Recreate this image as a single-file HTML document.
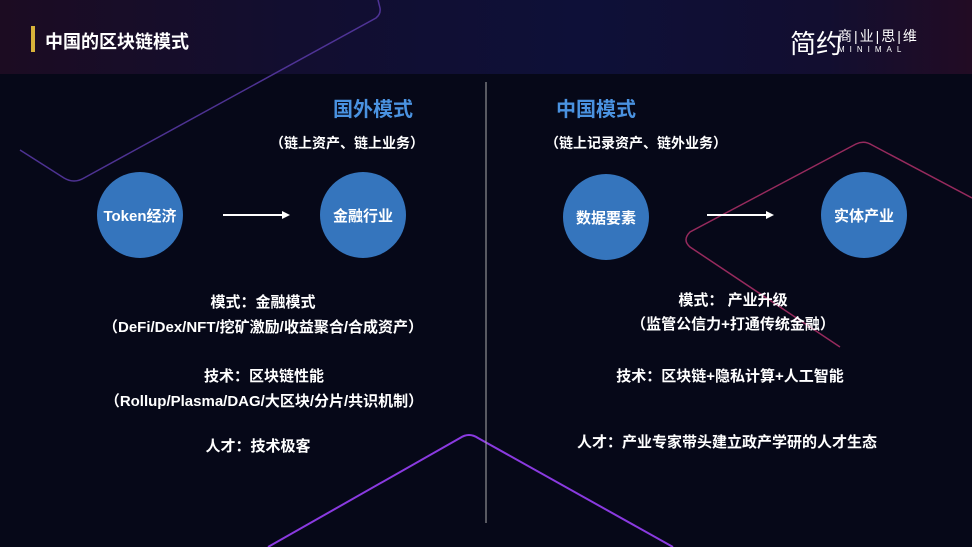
<!DOCTYPE html>
<html><head><meta charset="utf-8"><style>
body{margin:0;width:972px;height:547px;overflow:hidden;background:#060818;font-family:"Liberation Sans","Noto Sans CJK SC",sans-serif;color:#fff;position:relative}
.hdr{position:absolute;left:0;top:0;width:972px;height:74px;background:linear-gradient(90deg,#1c0c22 0%,#120e30 30%,#0e1038 60%,#120e30 85%,#220c24 100%)}
.t{position:absolute;white-space:nowrap;font-weight:bold}
.c{position:absolute;width:86px;height:86px;border-radius:50%;background:#3575bd;display:flex;align-items:center;justify-content:center;font-weight:bold;font-size:15px}
.ctr{transform:translateX(-50%);text-align:center}
</style></head><body>
<div class="hdr"></div>
<svg style="position:absolute;left:0;top:0" width="972" height="547">
<path d="M378,0 L380,8 Q381,14 376,18 L84,178 Q74,184 64,178 L20,150" fill="none" stroke="#5a3aa8" stroke-width="1.5" opacity="0.85"/>
<path d="M268,547 L460,438 Q469,432 478,438 L673,547" fill="none" stroke="#8a3ae0" stroke-width="2"/>
<path d="M840,347 L690,247 Q682,240 690,232 L856,144 Q864,140 872,145 L972,198" fill="none" stroke="#b0306a" stroke-width="1.5" opacity="0.85"/>
<line x1="486" y1="82" x2="486" y2="523" stroke="#aaa" stroke-width="1"/>
<line x1="223" y1="215" x2="284" y2="215" stroke="#fff" stroke-width="2"/>
<polygon points="290,215 282,211 282,219" fill="#fff"/>
<line x1="707" y1="215" x2="768" y2="215" stroke="#fff" stroke-width="2"/>
<polygon points="774,215 766,211 766,219" fill="#fff"/>
</svg>
<div style="position:absolute;left:31px;top:26px;width:4px;height:26px;background:#d8b23a"></div>
<div class="t" style="left:45px;top:28px;font-size:18px">中国的区块链模式</div>
<div class="t" style="left:790px;top:24px;font-size:26px;font-weight:normal">简约</div>
<div class="t" style="left:838px;top:26px;font-size:14px;font-weight:normal;letter-spacing:2px">商|业|思|维</div>
<div class="t" style="left:838px;top:45px;font-size:8px;font-weight:normal;letter-spacing:5px">MINIMAL</div>
<div class="t" style="left:333px;top:93px;font-size:20px;color:#4a92e0">国外模式</div>
<div class="t" style="left:556px;top:93px;font-size:20px;color:#4a92e0">中国模式</div>
<div class="t" style="left:270px;top:133px;font-size:14px">（链上资产、链上业务）</div>
<div class="t" style="left:545px;top:133px;font-size:14px">（链上记录资产、链外业务）</div>
<div class="c" style="left:97px;top:172px">Token经济</div>
<div class="c" style="left:320px;top:172px">金融行业</div>
<div class="c" style="left:563px;top:174px">数据要素</div>
<div class="c" style="left:821px;top:172px">实体产业</div>
<div class="t ctr" style="left:263px;top:290px;font-size:15px;line-height:25px">模式：金融模式<br>（DeFi/Dex/NFT/挖矿激励/收益聚合/合成资产）</div>
<div class="t ctr" style="left:264px;top:364px;font-size:15px;line-height:25px">技术：区块链性能<br>（Rollup/Plasma/DAG/大区块/分片/共识机制）</div>
<div class="t ctr" style="left:258px;top:435px;font-size:15px">人才：技术极客</div>
<div class="t ctr" style="left:733px;top:289px;font-size:15px;line-height:24px">模式： 产业升级<br>（监管公信力+打通传统金融）</div>
<div class="t ctr" style="left:730px;top:365px;font-size:15px">技术：区块链+隐私计算+人工智能</div>
<div class="t ctr" style="left:727px;top:431px;font-size:15px">人才：产业专家带头建立政产学研的人才生态</div>
</body></html>
